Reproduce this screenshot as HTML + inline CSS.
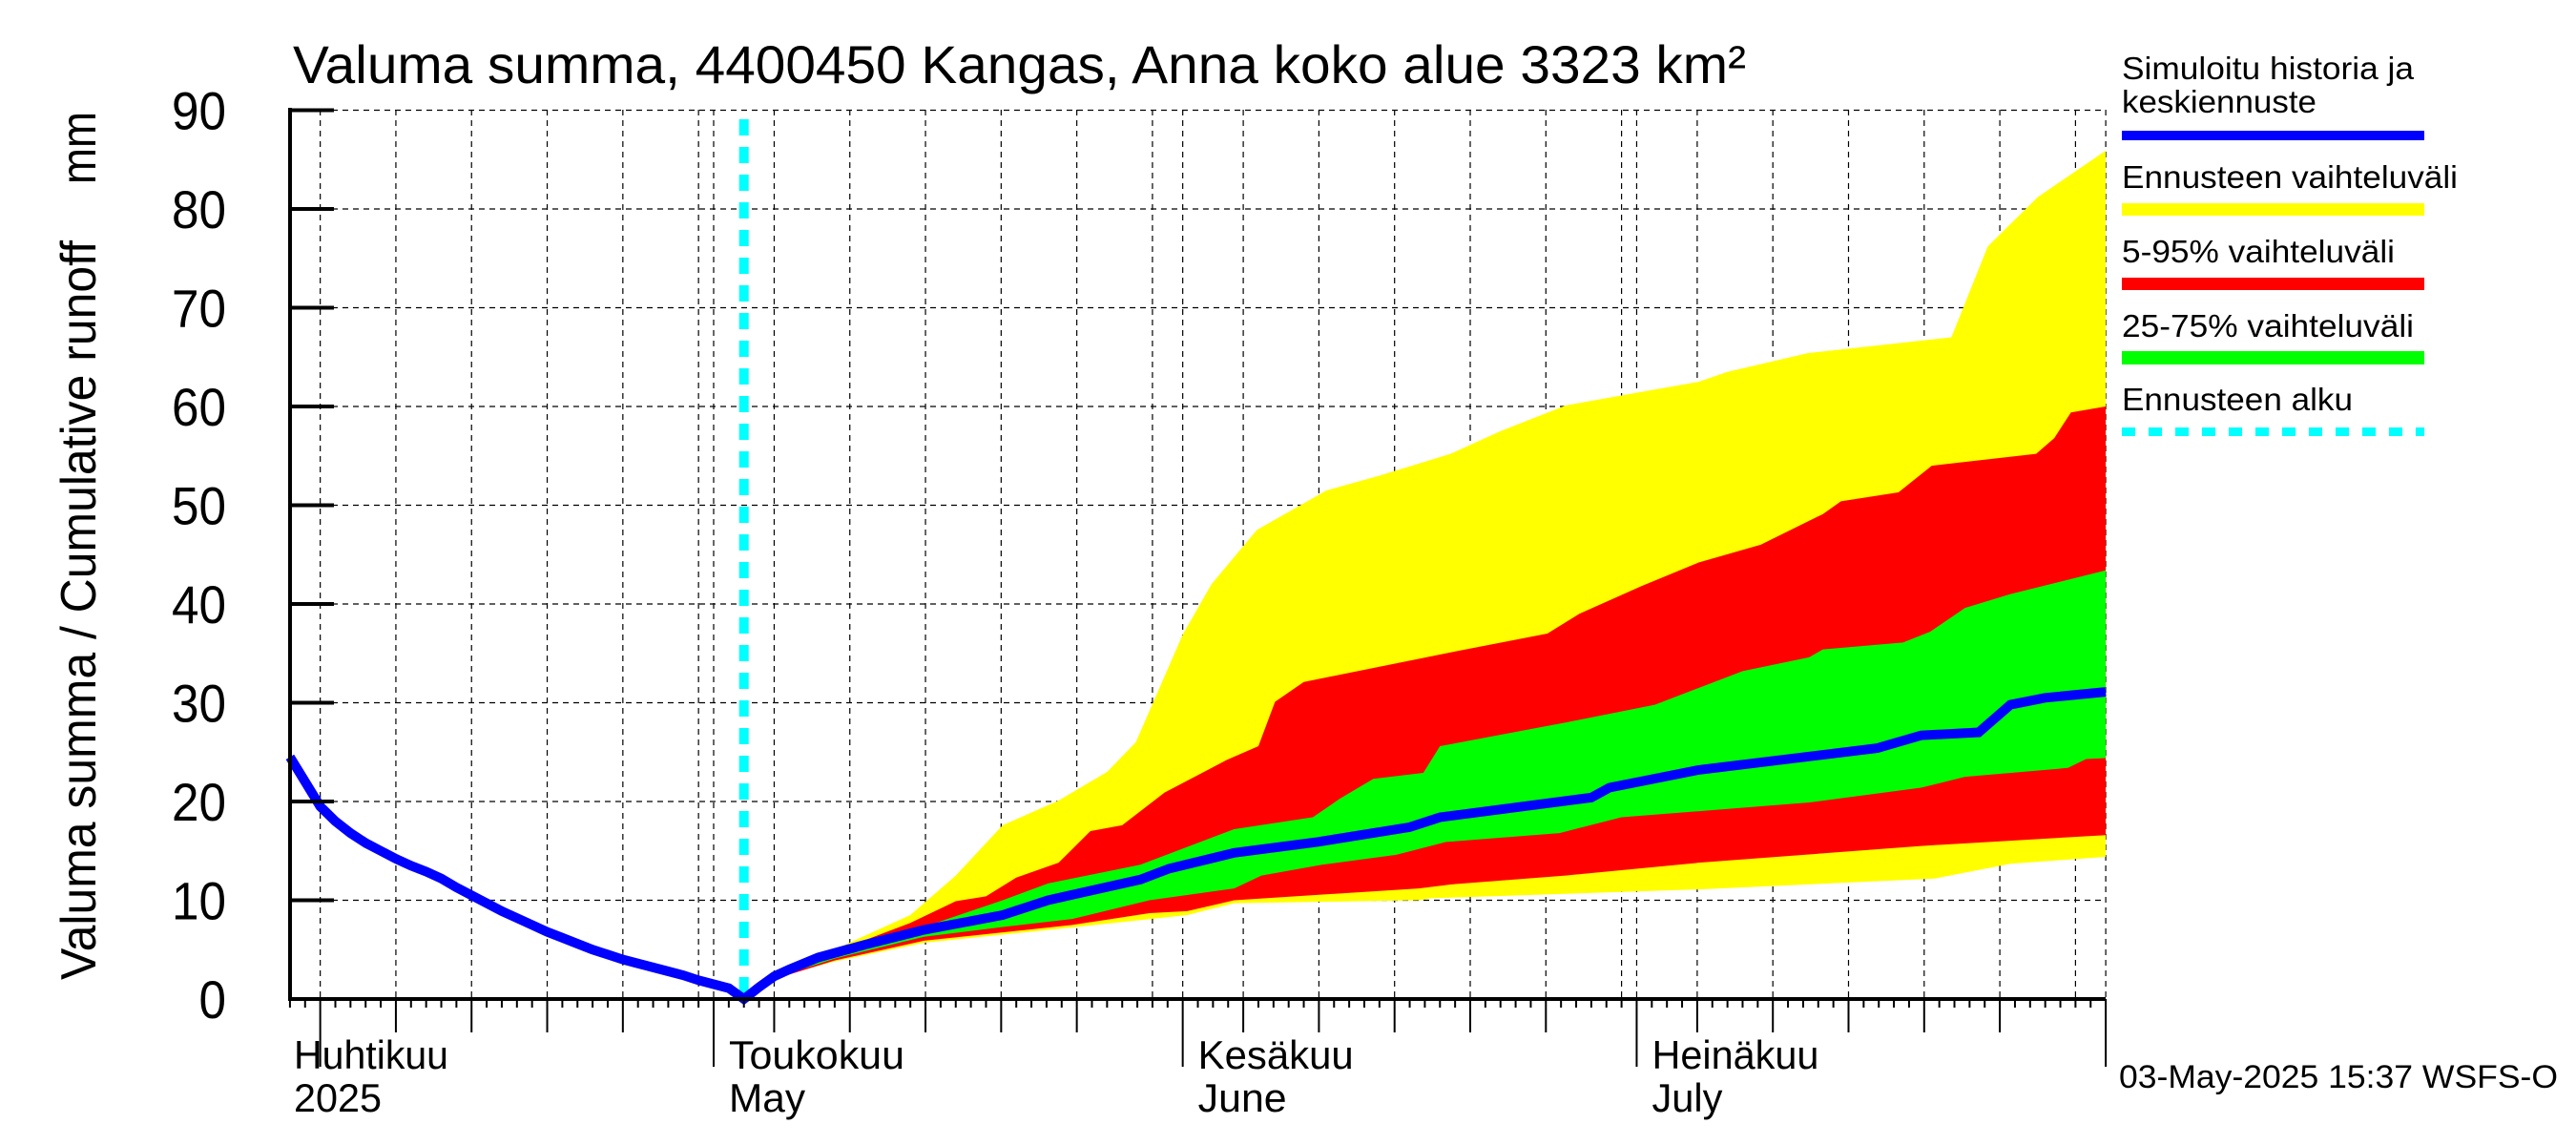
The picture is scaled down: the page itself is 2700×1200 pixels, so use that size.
<!DOCTYPE html>
<html><head><meta charset="utf-8"><style>
html,body{margin:0;padding:0;background:#fff;}
svg{display:block;font-family:"Liberation Sans",sans-serif;}
</style></head><body>
<svg id="chart" width="2700" height="1200" viewBox="0 0 2700 1200" xmlns="http://www.w3.org/2000/svg">
<rect width="2700" height="1200" fill="#fff"/>
<text x="307" y="87" font-size="56" textLength="1523" lengthAdjust="spacingAndGlyphs">Valuma summa, 4400450 Kangas, Anna koko alue 3323 km²</text>
<g id="grid"></g>
<g id="bands"></g>
<g id="lines"></g>
<g id="axes"></g>
<text transform="translate(100,1027) rotate(-90)" font-size="52" textLength="775" lengthAdjust="spacingAndGlyphs">Valuma summa / Cumulative runoff</text>
<text transform="translate(100,193) rotate(-90)" font-size="52" textLength="76" lengthAdjust="spacingAndGlyphs">mm</text>
<g font-size="33">
<text x="2224" y="83" textLength="306" lengthAdjust="spacingAndGlyphs">Simuloitu historia ja</text>
<text x="2224" y="118" textLength="204" lengthAdjust="spacingAndGlyphs">keskiennuste</text>
<rect x="2224" y="137" width="317" height="10" fill="#0000ff"/>
<text x="2224" y="197" textLength="352" lengthAdjust="spacingAndGlyphs">Ennusteen vaihteluväli</text>
<rect x="2224" y="213" width="317" height="13" fill="#ffff00"/>
<text x="2224" y="275" textLength="286" lengthAdjust="spacingAndGlyphs">5-95% vaihteluväli</text>
<rect x="2224" y="291" width="317" height="13" fill="#ff0000"/>
<text x="2224" y="353" textLength="306" lengthAdjust="spacingAndGlyphs">25-75% vaihteluväli</text>
<rect x="2224" y="368" width="317" height="14" fill="#00ff00"/>
<text x="2224" y="430" textLength="242" lengthAdjust="spacingAndGlyphs">Ennusteen alku</text>
<line x1="2224" y1="452.5" x2="2541" y2="452.5" stroke="#00ffff" stroke-width="9" stroke-dasharray="14 14"/>
</g>
<text x="2221" y="1140" font-size="34" textLength="460" lengthAdjust="spacingAndGlyphs">03-May-2025 15:37 WSFS-O</text>
</svg>
<script>
// Data (day index: 0 = 1 May 2025)
const history = [[-28,24.5],[-27,22],[-26,19.5],[-25,18],[-24,16.8],[-23,15.8],[-22,15],[-21,14.2],[-20,13.5],[-19,12.9],[-18,12.2],[-17,11.3],[-16,10.5],[-15,9.7],[-14,8.9],[-13,8.2],[-12,7.5],[-11,6.8],[-10,6.2],[-9,5.6],[-8,5.0],[-7,4.5],[-6,4.0],[-5,3.6],[-4,3.2],[-3,2.8],[-2,2.4],[-1,1.9],[0,1.5],[1,1.1],[2,0]];
const median = [[2,0],[3,1.2],[4,2.3],[5,3.0],[6.9,4.2],[10,5.5],[13.9,7],[19.1,8.5],[22.1,10],[28.2,12.1],[30.1,13.2],[34.4,14.8],[39.9,15.9],[46,17.4],[48,18.4],[58,20.4],[59.2,21.4],[65.1,23.2],[76.9,25.4],[79.8,26.7],[83.6,27],[85.7,29.8],[88,30.5],[92,31.1]];
const rangeMax = [[2,0],[4,2.5],[8.4,5.3],[13,8.5],[16,12.5],[19.1,17.6],[22.8,20.1],[26,23],[27.9,26],[31,36.9],[32.9,42],[35.9,47.5],[40.5,51.5],[44,53],[48.7,55.2],[52,57.5],[56.3,60.1],[61.4,61.5],[65.1,62.5],[67,63.5],[72.3,65.4],[81.8,67],[84.2,76.2],[87.5,81.2],[92,85.9]];
const rangeMin = [[2,0],[4,2.2],[8,3.8],[13.9,5.7],[24,7.3],[31.3,8.5],[34.4,9.7],[46.6,10],[47.4,10.2],[65.1,11.1],[80.7,12.2],[85.7,13.7],[92,14.4]];
const p95 = [[2,0],[4,2.6],[8,4.8],[13,7.7],[16,9.9],[18,10.4],[20,12.3],[22.8,13.8],[24.9,17],[27,17.6],[29.8,20.9],[33.9,24.2],[36,25.6],[37.1,30.1],[39,32.1],[48.7,35.1],[55.1,37],[57.2,39],[61.3,41.8],[65.1,44.2],[69.2,46],[73.3,49.1],[74.5,50.4],[78.3,51.3],[80.5,54],[87.4,55.2],[88.6,56.8],[89.7,59.4],[92,60]];
const p5 = [[2,0],[4,2.0],[8,3.9],[13.9,5.9],[23.7,7.5],[28.8,8.7],[31.3,8.9],[34.4,10],[46.6,11.2],[48.7,11.6],[56.3,12.5],[65.1,13.8],[79.8,15.5],[92,16.6]];
const p75 = [[2,0],[4,2.4],[8,4.5],[13.9,7.3],[19.1,10],[22.1,11.7],[28.2,13.6],[34.4,17.2],[39.6,18.4],[41.4,20.3],[43.6,22.3],[46.9,22.9],[48,25.6],[56.3,28],[62.2,29.8],[65.1,31.5],[68,33.2],[72.4,34.6],[73.3,35.4],[78.6,36.1],[80.4,37.2],[82.7,39.6],[85.7,41],[92,43.4]];
const p25 = [[2,0],[4,2.1],[8,4.1],[13.9,6.3],[19.1,7.3],[23.7,8.1],[28.8,10],[34.4,11.2],[36.2,12.5],[40.2,13.6],[45.1,14.6],[48.4,15.9],[55.9,16.8],[60,18.4],[72.4,19.9],[79.8,21.4],[82.7,22.5],[89.5,23.4],[90.7,24.3],[92,24.4]];
const forecastStartDay = 2;
const yTicks = [0,10,20,30,40,50,60,70,80,90];
const monthStarts = [0,31,61,92];
const monthLabels = ["Toukokuu","Kesäkuu","Heinäkuu"];
const monthLabels2 = ["May","June","July"];
const monthLabelWidths = [184,163,175];
const monthLabel2Widths = [80,93,74];

const NS="http://www.w3.org/2000/svg";
const X0=748, DX=15.86, Y0=1047, DY=10.35, XL=304, XR=2207, YT=115;
const xS=d=>X0+d*DX, yS=v=>Y0-v*DY;
function mk(tag,attrs,parent){const e=document.createElementNS(NS,tag);for(const k in attrs)e.setAttribute(k,attrs[k]);parent.appendChild(e);return e;}
const grid=document.getElementById('grid'),bands=document.getElementById('bands'),lines=document.getElementById('lines'),axes=document.getElementById('axes');

yTicks.forEach(v=>{ if(v===0) return;
  const l=mk('line',{x1:XL,x2:XR,y1:yS(v),y2:yS(v),stroke:'#000','stroke-width':1.2,'stroke-dasharray':'6 5'},grid);
  
  
});
function dayOfMonth(d){ if(d<0) return 30+d+1; if(d<31) return d+1; if(d<61) return d-30; if(d<92) return d-60; return d-91; }
for(let d=-28; d<=92; d++){
  const dm=dayOfMonth(d), x=xS(d);
  const isMonth=monthStarts.includes(d);
  if(dm%5===0||isMonth){
    const g=mk('line',{x1:x,x2:x,y1:YT,y2:Y0,stroke:'#000','stroke-width':1.2,'stroke-dasharray':'6 5'},grid);
    
    
  }
  let len=9; if(dm%5===0&&dm<30) len=35; if(isMonth) len=71;
  if(d===-26) len=71;
  const t=mk('line',{x1:x,x2:x,y1:Y0,y2:Y0+len,stroke:'#000','stroke-width':2},axes);
  
  
}
function band(up,lo,color,name){
  const pts=up.map(p=>xS(p[0])+','+yS(p[1])).concat(lo.slice().reverse().map(p=>xS(p[0])+','+yS(p[1])));
  const p=mk('polygon',{points:pts.join(' '),fill:color},bands);
  
  
}
band(rangeMax,rangeMin,'#ffff00','band-range');
band(p95,p5,'#ff0000','band-5-95');
band(p75,p25,'#00ff00','band-25-75');
const cy=mk('line',{x1:xS(forecastStartDay),x2:xS(forecastStartDay),y1:125,y2:Y0,stroke:'#00ffff','stroke-width':10,'stroke-dasharray':'17 12'},lines);


const all=history.concat(median.slice(1));
const ml=mk('polyline',{points:all.map(p=>xS(p[0])+','+yS(p[1])).join(' '),fill:'none',stroke:'#0000ff','stroke-width':10,'stroke-linejoin':'miter'},lines);


const ax=mk('line',{x1:XL-1,x2:XR,y1:Y0,y2:Y0,stroke:'#000','stroke-width':4},axes);


const ay=mk('line',{x1:XL,x2:XL,y1:YT-2,y2:Y0+2,stroke:'#000','stroke-width':4},axes);


yTicks.forEach(v=>{
  const t=mk('line',{x1:XL,x2:XL+46,y1:yS(v),y2:yS(v),stroke:'#000','stroke-width':4},axes);
  
  
  const s=String(v);
  const lb=mk('text',{x:237,y:yS(v)+20,'font-size':56,'text-anchor':'end',textLength:s.length*28.5,lengthAdjust:'spacingAndGlyphs'},axes);
  lb.textContent=s;
  
  
});
function lab(x,y,s,w,name){const t=mk('text',{x:x,y:y,'font-size':42,textLength:w,lengthAdjust:'spacingAndGlyphs'},axes);t.textContent=s;
  
  }
lab(308,1120,'Huhtikuu',162,'month-label');
lab(308,1165,'2025',92,'year-label');
for(let i=0;i<3;i++){
  lab(xS(monthStarts[i])+16,1120,monthLabels[i],monthLabelWidths[i],'month-label');
  lab(xS(monthStarts[i])+16,1165,monthLabels2[i],monthLabel2Widths[i],'month-label-en');
}
</script>
</body></html>
